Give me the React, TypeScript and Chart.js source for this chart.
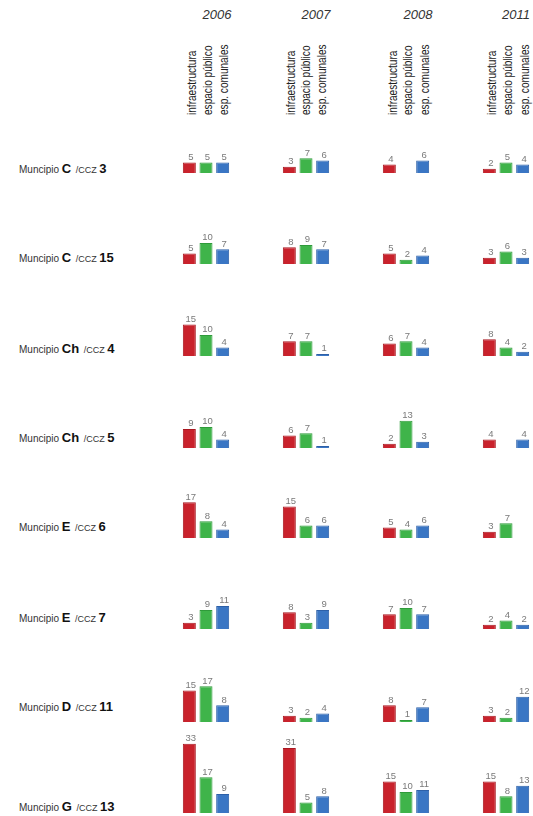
import React, { useEffect, useRef } from "react";
import { Chart, registerables } from "chart.js";

Chart.register(...registerables);

const years = ["2006", "2007", "2008", "2011"];
const seriesNames = ["infraestructura", "espacio público", "esp. comunales"];
const rowLetters = ["C", "C", "Ch", "Ch", "E", "E", "D", "G"];
const rowNumbers = ["3", "15", "4", "5", "6", "7", "11", "13"];

// one entry per row, values per year (2006, 2007, 2008, 2011)
const infraestructura = [
  [5, 3, 4, 2],
  [5, 8, 5, 3],
  [15, 7, 6, 8],
  [9, 6, 2, 4],
  [17, 15, 5, 3],
  [3, 8, 7, 2],
  [15, 3, 8, 3],
  [33, 31, 15, 15],
];
const espacioPublico = [
  [5, 7, null, 5],
  [10, 9, 2, 6],
  [10, 7, 7, 4],
  [10, 7, 13, null],
  [8, 6, 4, 7],
  [9, 3, 10, 4],
  [17, 2, 1, 2],
  [17, 5, 10, 8],
];
const espComunales = [
  [5, 6, 6, 4],
  [7, 7, 4, 3],
  [4, 1, 4, 2],
  [4, 1, 3, 4],
  [4, 6, 6, null],
  [11, 9, 7, 2],
  [8, 4, 7, 12],
  [9, 8, 11, 13],
];

const COLORS = ["#c9222c", "#3fb44a", "#3a76c4"];
const BORDERS = ["#a81820", "#2f9a3a", "#2d60a8"];
const FONT = "'Liberation Sans', Arial, sans-serif";

const rowBaselines = [173, 264, 356, 448, 538, 629, 722, 813];
const rowLabelCenters = [168, 257, 348, 437, 526, 617, 706, 806];
const yearCenters = [217, 316, 418, 516];
const headerCenters = [
  [192, 208, 224],
  [291, 306, 322],
  [393, 408, 425],
  [492, 508, 525],
];

const CHART_LEFT = 156;
const CHART_W = 400;
const CHART_H = 84;

const valueLabels = {
  id: "valueLabels",
  afterDatasetsDraw(chart: any) {
    const ctx = chart.ctx;
    ctx.save();
    ctx.font = `9.5px ${FONT}`;
    try {
      (ctx as any).fontStretch = "condensed";
    } catch (e) {}
    ctx.fillStyle = "#7a7a7a";
    ctx.textAlign = "center";
    ctx.textBaseline = "bottom";
    chart.data.datasets.forEach((ds: any, di: number) => {
      const meta = chart.getDatasetMeta(di);
      meta.data.forEach((bar: any, i: number) => {
        const v = ds.data[i];
        if (v === null || v === undefined) return;
        ctx.fillText(String(v), bar.x + 1.5, bar.y - 0.5);
      });
    });
    ctx.restore();
  },
};

function RowChart({ row }: { row: number }) {
  const ref = useRef<HTMLCanvasElement | null>(null);
  useEffect(() => {
    if (!ref.current) return;
    const seriesData = [infraestructura[row], espacioPublico[row], espComunales[row]];
    const chart = new Chart(ref.current, {
      type: "bar",
      data: {
        labels: years,
        datasets: seriesNames.map((name, i) => ({
          label: name,
          data: seriesData[i],
          backgroundColor: COLORS[i],
          borderColor: BORDERS[i],
          borderWidth: 1,
          categoryPercentage: 0.5,
          barPercentage: 0.78,
        })),
      },
      options: {
        animation: false,
        responsive: false,
        maintainAspectRatio: false,
        layout: { padding: 0 },
        plugins: {
          legend: { display: false },
          tooltip: { enabled: false },
        },
        scales: {
          x: { display: false },
          y: { display: false, min: 0, max: 40 },
        },
      },
      plugins: [valueLabels],
    });
    return () => chart.destroy();
  }, [row]);
  return (
    <canvas
      ref={ref}
      width={CHART_W}
      height={CHART_H}
      style={{
        position: "absolute",
        left: CHART_LEFT,
        top: rowBaselines[row] - CHART_H,
        width: CHART_W,
        height: CHART_H,
      }}
    />
  );
}

export default function App() {
  return (
    <div
      style={{
        position: "absolute",
        left: 0,
        top: 0,
        width: 533,
        height: 816,
        overflow: "hidden",
        background: "#fff",
      }}
    >
      {years.map((y, i) => (
        <div
          key={"y" + y}
          style={{
            position: "absolute",
            left: yearCenters[i] - 25,
            top: 7,
            width: 50,
            textAlign: "center",
            fontFamily: FONT,
            fontStyle: "italic",
            fontSize: 13,
            lineHeight: "16px",
            color: "#333",
          }}
        >
          {y}
        </div>
      ))}
      {headerCenters.map((cols, ci) =>
        cols.map((cx, si) => (
          <div
            key={`h${ci}-${si}`}
            style={{
              position: "absolute",
              left: cx,
              top: 115 - 6,
              height: 12,
              fontFamily: FONT,
              fontSize: 12,
              lineHeight: "12px",
              color: "#222",
              whiteSpace: "nowrap",
              transformOrigin: "0 50%",
              transform: "rotate(-90deg) scaleX(0.84)",
            }}
          >
            {seriesNames[si]}
          </div>
        ))
      )}
      {rowLetters.map((letter, r) => (
        <div
          key={"r" + r}
          style={{
            position: "absolute",
            left: 19,
            top: rowLabelCenters[r] - 8,
            lineHeight: "16px",
            whiteSpace: "nowrap",
            fontFamily: FONT,
            color: "#333",
          }}
        >
          <span style={{ fontSize: 10 }}>Muncipio </span>
          <b style={{ fontSize: 13, color: "#111" }}>{letter}</b>
          <span style={{ fontSize: 9, marginLeft: 2 }}> /CCZ </span>
          <b style={{ fontSize: 13, color: "#111" }}>{rowNumbers[r]}</b>
        </div>
      ))}
      {rowLetters.map((_, r) => (
        <RowChart key={"c" + r} row={r} />
      ))}
    </div>
  );
}
